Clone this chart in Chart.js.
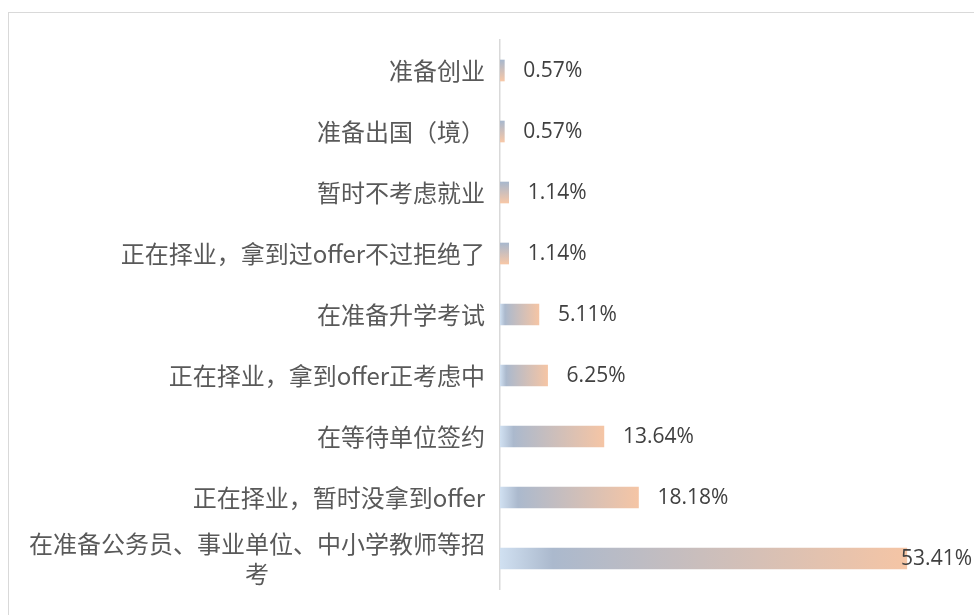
<!DOCTYPE html>
<html>
<head>
<meta charset="utf-8">
<script src="https://cdn.jsdelivr.net/npm/chart.js@4"></script>
<style>
  body { margin: 0; background: #fff; }
  #wrap { position: relative; width: 974px; height: 615px; overflow: hidden; }
  #frame { position: absolute; left: 8px; top: 12px; width: 980px; height: 620px; border: 1.5px solid #d9d9d9; box-sizing: border-box; }
  canvas { position: absolute; left: 0; top: 0; }
</style>
</head>
<body>
<div id="wrap">
  <div id="frame"></div>
  <canvas id="grafico" width="974" height="615"></canvas>
</div>
<script>
// === Dados ===
const categorias = [
  "准备创业",
  "准备出国（境）",
  "暂时不考虑就业",
  "正在择业，拿到过offer不过拒绝了",
  "在准备升学考试",
  "正在择业，拿到offer正考虑中",
  "在等待单位签约",
  "正在择业，暂时没拿到offer",
  "在准备公务员、事业单位、中小学教师等招考"
];
const valores = [0.57, 0.57, 1.14, 1.14, 5.11, 6.25, 13.64, 18.18, 53.41];

const fonteCat = '24px "Noto Sans CJK SC", sans-serif';
const fonteVal = '21px "Open Sans", sans-serif';

// quebra o texto da categoria em linhas
function quebrarTexto(ctx, texto, largMax) {
  const linhas = [];
  let atual = "";
  for (const ch of texto) {
    if (ctx.measureText(atual + ch).width > largMax && atual) {
      linhas.push(atual);
      atual = ch;
    } else {
      atual += ch;
    }
  }
  linhas.push(atual);
  return linhas;
}

// gradiente de cada barra
function corBarra(c) {
  const chart = c.chart;
  if (!chart.chartArea) return "#b0bccc";
  const x0 = chart.scales.x.getPixelForValue(0);
  const x1 = chart.scales.x.getPixelForValue(c.raw);
  const yc = chart.scales.y.getPixelForValue(c.dataIndex);
  let g;
  if (x1 - x0 < 12) {
    g = chart.ctx.createLinearGradient(0, yc - 10, 0, yc + 10);
    g.addColorStop(0, "#aab8cc");
    g.addColorStop(1, "#f5c7a8");
  } else {
    g = chart.ctx.createLinearGradient(x0, 0, x1, 0);
    g.addColorStop(0, "#d0e0f1");
    g.addColorStop(0.13, "#abb9cd");
    g.addColorStop(1, "#f5c5a5");
  }
  return g;
}

const rotulos = {
  id: "rotulos",
  afterDatasetsDraw(chart) {
    const ctx = chart.ctx;
    const ys = chart.scales.y;
    const meta = chart.getDatasetMeta(0);
    ctx.save();
    // categorias
    ctx.font = fonteCat;
    ctx.fillStyle = "#595959";
    ctx.textBaseline = "middle";
    categorias.forEach((cat, i) => {
      const y = ys.getPixelForValue(i);
      const linhas = quebrarTexto(ctx, cat, 465);
      if (linhas.length === 1) {
        ctx.textAlign = "right";
        ctx.fillText(cat, 485, y);
      } else {
        const larg = Math.max(...linhas.map(l => ctx.measureText(l).width));
        const cx = 485 - larg / 2;
        const alt = 30;
        ctx.textAlign = "center";
        linhas.forEach((l, k) => {
          ctx.fillText(l, cx, y + (k - (linhas.length - 1) / 2) * alt);
        });
      }
    });
    // valores
    ctx.font = fonteVal;
    ctx.fillStyle = "#404040";
    ctx.textAlign = "left";
    meta.data.forEach((bar, i) => {
      const txt = valores[i].toFixed(2) + "%";
      const w = ctx.measureText(txt).width;
      let x = bar.x + 19;
      if (x + w > 972) x = 972 - w;
      ctx.fillText(txt, x, bar.y + 1);
    });
    ctx.restore();
  }
};

const ctx = document.getElementById("grafico").getContext("2d");
new Chart(ctx, {
  type: "bar",
  data: {
    labels: categorias,
    datasets: [{
      data: valores,
      backgroundColor: corBarra,
      barThickness: 21,
      borderWidth: 0
    }]
  },
  options: {
    indexAxis: "y",
    responsive: false,
    animation: false,
    layout: { padding: { left: 0, right: 17, top: 40, bottom: 26 } },
    scales: {
      x: { display: false, min: 0, max: 60 },
      y: {
        ticks: { display: false },
        grid: { display: false, drawTicks: false },
        border: { display: true, color: "#d9d9d9", width: 1.5 },
        afterFit: s => { s.width = 500; }
      }
    },
    plugins: {
      legend: { display: false },
      tooltip: { enabled: false }
    }
  },
  plugins: [rotulos]
});
</script>
</body>
</html>
